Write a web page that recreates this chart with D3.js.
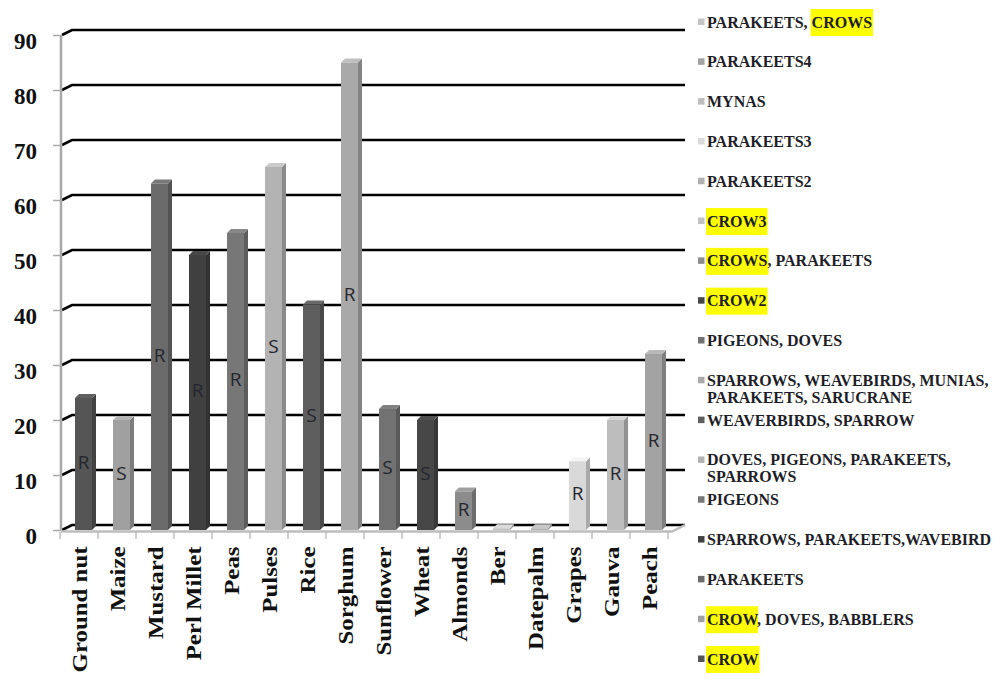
<!DOCTYPE html>
<html>
<head>
<meta charset="utf-8">
<script src="https://cdn.jsdelivr.net/npm/d3@7"></script>
<style>
  html, body { margin: 0; padding: 0; background: #fff; }
  svg { display: block; }
</style>
</head>
<body>
<svg id="chart" width="1001" height="679"></svg>
<script>
// ---------- data ----------
const categories = ["Ground nut","Maize","Mustard","Perl Millet","Peas","Pulses","Rice","Sorghum",
  "Sunflower","Wheat","Almonds","Ber","Datepalm","Grapes","Gauva","Peach"];
const values = [24, 20, 63, 50, 54, 66, 41, 85, 22, 20, 7, 0.3, 0.3, 12.5, 20, 32];
const barLetters = ["R","S","R","R","R","S","S","R","S","S","R","","","R","R","R"];
const yTicks = [0,10,20,30,40,50,60,70,80,90];
// legend, top to bottom as shown
const legendLabels = [
  "PARAKEETS, CROWS",
  "PARAKEETS4",
  "MYNAS",
  "PARAKEETS3",
  "PARAKEETS2",
  "CROW3",
  "CROWS, PARAKEETS",
  "CROW2",
  "PIGEONS, DOVES",
  "SPARROWS, WEAVEBIRDS, MUNIAS,\nPARAKEETS, SARUCRANE",
  "WEAVERBIRDS, SPARROW",
  "DOVES, PIGEONS, PARAKEETS,\nSPARROWS",
  "PIGEONS",
  "SPARROWS, PARAKEETS,WAVEBIRD",
  "PARAKEETS",
  "CROW, DOVES, BABBLERS",
  "CROW"
];

// ---------- styles ----------
const barColors = ["#555555","#a0a0a0","#6b6b6b","#404040","#777777","#b3b3b3","#5e5e5e","#a9a9a9",
  "#727272","#474747","#8c8c8c","#c0c0c0","#b0b0b0","#d9d9d9","#bdbdbd","#a3a3a3"];
const legendColors = ["#c4c4c4","#a3a3a3","#bdbdbd","#d9d9d9","#b0b0b0","#c0c0c0","#8c8c8c","#474747",
  "#727272","#a9a9a9","#5e5e5e","#b3b3b3","#777777","#404040","#6b6b6b","#a0a0a0","#555555"];

const svg = d3.select("#chart");
const serif = "'Liberation Serif','Times New Roman',serif";

// scales
const y = d3.scaleLinear().domain([0, 90]).range([525, 30]);     // back wall
const yFront = d3.scaleLinear().domain([0, 90]).range([530, 35]); // front plane
const x = d3.scaleBand().domain(categories).range([60, 668]).padding(0);
const depthX = 4, depthY = 4;

// gridlines (back wall) with left-wall diagonal
const grid = svg.append("g");
yTicks.forEach(v => {
  grid.append("path")
    .attr("d", `M62,${yFront(v)} L72,${y(v)} L685,${y(v)}`)
    .attr("fill", "none").attr("stroke", "#000").attr("stroke-width", 2.6);
});

// left wall vertical line
svg.append("line").attr("x1", 61).attr("x2", 61).attr("y1", yFront(90)).attr("y2", yFront(0))
  .attr("stroke", "#a8a8a8").attr("stroke-width", 2.5);

// floor front edge
svg.append("path")
  .attr("d", `M61,${yFront(0)+1.5} L672,${yFront(0)+1.5} L685,${y(0)}`)
  .attr("fill", "none").attr("stroke", "#bdbdbd").attr("stroke-width", 2.5);

// y axis
const yAxis = d3.axisLeft(yFront).tickValues(yTicks).tickSize(8).tickPadding(16);
const gy = svg.append("g").attr("transform", "translate(61,0)").call(yAxis);
gy.select(".domain").remove();
gy.selectAll(".tick line").attr("stroke", "#a8a8a8").attr("stroke-width", 1.5);
gy.selectAll(".tick text")
  .attr("font-family", serif).attr("font-weight", "bold").attr("font-size", 23)
  .attr("fill", "#111").attr("dy", "0.58em");

// x axis (labels) and boundary ticks
const stretch = 1.13;
const xAxis = d3.axisBottom(x).tickSize(0);
const gx = svg.append("g").attr("transform", `translate(0,${yFront(0)+1.5})`).call(xAxis);
gx.select(".domain").remove();
gx.selectAll(".tick text")
  .attr("transform", `rotate(-90) scale(${stretch},1)`)
  .attr("x", -15 / stretch).attr("y", 0).attr("dy", "0.36em")
  .style("text-anchor", "end")
  .attr("font-family", serif).attr("font-weight", "bold").attr("font-size", 22)
  .attr("fill", "#111");
const bounds = categories.map(c => x(c)).concat([x.range()[1]]);
svg.append("g").selectAll("line").data(bounds).join("line")
  .attr("x1", d => d).attr("x2", d => d)
  .attr("y1", yFront(0) + 2).attr("y2", yFront(0) + 9)
  .attr("stroke", "#b0b0b0").attr("stroke-width", 1.2);

// bars (pseudo-3D)
const barOff = 15, barW = 17;
const bars = svg.append("g").selectAll("g").data(categories).join("g");
bars.each(function(c, i) {
  const g = d3.select(this);
  const v = values[i];
  const x0 = x(c) + barOff, x1 = x0 + barW;
  const top = yFront(v), bot = yFront(0);
  const col = d3.color(barColors[i]);
  g.append("path")
    .attr("d", `M${x1},${top} L${x1+depthX},${top-depthY} L${x1+depthX},${bot-depthY} L${x1},${bot} Z`)
    .attr("fill", col.darker(0.7));
  g.append("path")
    .attr("d", `M${x0},${top} L${x0+depthX},${top-depthY} L${x1+depthX},${top-depthY} L${x1},${top} Z`)
    .attr("fill", col.brighter(0.35));
  g.append("rect").attr("x", x0).attr("y", top).attr("width", barW).attr("height", Math.max(0, bot - top))
    .attr("fill", col);
  if (barLetters[i]) {
    g.append("text")
      .attr("x", x0 + barW / 2).attr("y", yFront(v / 2) - 2)
      .attr("dy", "0.36em").attr("text-anchor", "middle")
      .attr("font-family", "'Open Sans','Liberation Sans',sans-serif").attr("font-size", 19)
      .attr("fill", "#26262e")
      .text(barLetters[i]);
  }
});

// legend
const ly = d3.scalePoint().domain(d3.range(legendLabels.length)).range([22, 659]);
const leg = svg.append("g");
legendLabels.forEach((lab, i) => {
  const cy = ly(i);
  leg.append("rect").attr("x", 698).attr("y", cy - 3.5).attr("width", 6.5).attr("height", 6.5)
    .attr("fill", legendColors[i]);
  lab.split("\n").forEach((line, k) => {
    const lineY = cy + k * 17;
    const hl = leg.append("g");
    const t = leg.append("text")
      .attr("x", 707).attr("y", lineY + 5.5)
      .attr("font-family", serif).attr("font-weight", "bold").attr("font-size", 16)
      .attr("fill", "#1e1e28");
    const parts = line.split(/(CROW\w*)/).filter(s => s.length);
    const spans = parts.map(p => ({ p, span: t.append("tspan").text(p).node() }));
    spans.forEach(({ p, span }) => {
      if (/^CROW/.test(p)) {
        const sx = span.getStartPositionOfChar(0).x;
        const w = span.getComputedTextLength();
        hl.append("rect").attr("x", sx - 1).attr("y", lineY - 13).attr("width", w + 2).attr("height", 27)
          .attr("fill", "#ffff00");
      }
    });
  });
});
</script>
</body>
</html>
